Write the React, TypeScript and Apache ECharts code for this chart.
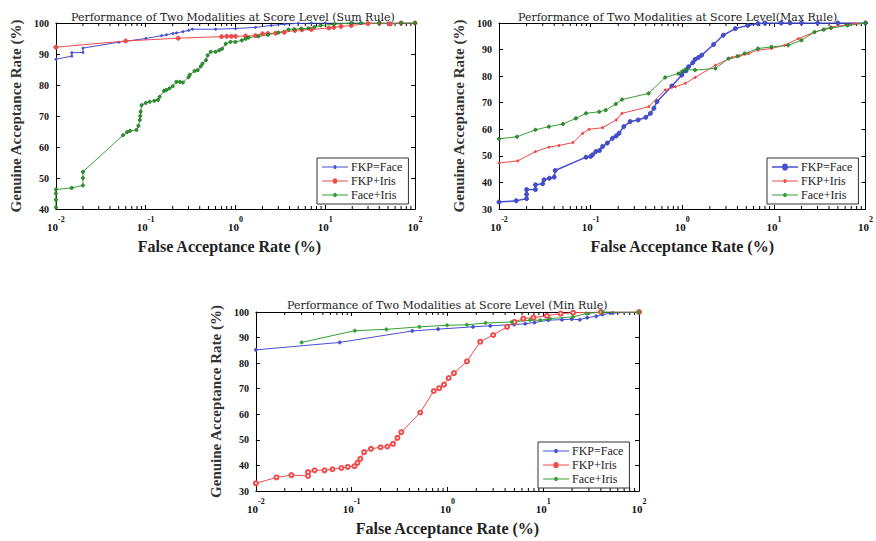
import React, { useEffect, useRef } from "react";
import * as echarts from "echarts";

type Pt = [number, number];

// ---------- shared ----------
const seriesNames = ["FKP=Face", "FKP+Iris", "Face+Iris"];
const xMajorTicks = [0.01, 0.1, 1, 10, 100];
const xMinorTicks = [
  0.02, 0.03, 0.04, 0.05, 0.06, 0.07, 0.08, 0.09,
  0.2, 0.3, 0.4, 0.5, 0.6, 0.7, 0.8, 0.9,
  2, 3, 4, 5, 6, 7, 8, 9,
  20, 30, 40, 50, 60, 70, 80, 90,
];
const titles = [
  "Performance of Two Modalities at Score Level (Sum Rule)",
  "Performance of Two Modalities at Score Level(Max Rule)",
  "Performance of Two Modalities at Score Level (Min Rule)",
];
const xTitle = "False Acceptance Rate (%)";
const yTitle = "Genuine Acceptance Rate (%)";

// ---------- Sum rule ----------
const sumFkpFace: Pt[] = [
  [0.01, 88.3], [0.015, 89.3], [0.015, 90.4], [0.02, 90.5], [0.02, 91.9], [0.05, 93.8],
  [0.1, 95.0], [0.15, 95.9], [0.17, 96.2], [0.2, 96.6], [0.22, 96.8], [0.26, 97.2],
  [0.3, 97.6], [0.33, 98.0], [0.6, 98.0], [1.0, 98.2], [1.67, 98.6], [2.5, 99.2],
  [3.5, 99.6], [5, 99.9], [7, 100], [10, 100], [20, 100], [50, 100], [100, 100],
];
const sumFkpIris: Pt[] = [
  [0.01, 92.2], [0.06, 94.2], [0.23, 95.1], [0.7, 95.6], [0.8, 95.7], [0.9, 95.7],
  [1.0, 95.7], [1.3, 95.8], [1.67, 95.9], [2.0, 96.5], [2.3, 96.6], [2.8, 96.7],
  [3.5, 97.0], [4.6, 97.6], [5.5, 97.8], [7, 97.9], [11, 98.4], [12.5, 98.6],
  [15, 98.9], [19.5, 99.2], [30, 99.8], [40, 99.9], [53, 99.7], [70, 100], [100, 100],
];
const sumFaceIris: Pt[] = [
  [0.01, 40.5], [0.01, 43], [0.01, 45], [0.01, 46.3], [0.015, 46.8], [0.02, 47.6],
  [0.02, 50], [0.02, 52], [0.056, 63.8], [0.062, 64.8], [0.067, 65.2], [0.079, 65.5],
  [0.083, 66.8], [0.086, 68.7], [0.087, 70], [0.088, 71.4], [0.09, 73.5], [0.1, 74.2],
  [0.111, 74.6], [0.125, 74.9], [0.137, 75.2], [0.143, 76.2], [0.16, 78.1], [0.17, 78.4],
  [0.184, 78.9], [0.2, 79.6], [0.22, 81], [0.24, 81], [0.26, 80.8], [0.3, 82.5],
  [0.31, 83.3], [0.35, 84.5], [0.38, 84.8], [0.41, 86], [0.43, 86.9], [0.47, 88],
  [0.49, 89.6], [0.53, 90.7], [0.6, 90.7], [0.66, 91.2], [0.71, 91.7], [0.78, 93.3],
  [0.88, 93.9], [1.0, 93.9], [1.18, 94.4], [1.3, 94.9], [1.4, 95.3], [1.8, 95.7],
  [2.3, 96.2], [3.0, 96.9], [3.9, 97.9], [4.5, 98], [5.4, 98.2], [6.5, 98.3],
  [7.6, 98.7], [8.9, 99.2], [12.5, 99.6], [19.5, 100], [25, 100], [40, 100], [70, 100], [100, 100],
];

// ---------- Max rule ----------
const maxFkpFace: Pt[] = [
  [0.01, 32.6], [0.0154, 33.1], [0.02, 33.9], [0.02, 35.5], [0.02, 37.3], [0.025, 37.3],
  [0.025, 39.1], [0.03, 39.5], [0.031, 41], [0.0355, 41.6], [0.04, 42], [0.041, 44.5],
  [0.089, 49.5], [0.1, 49.8], [0.105, 50.4], [0.114, 51.6], [0.125, 52], [0.135, 53.5],
  [0.152, 54.8], [0.173, 56.6], [0.19, 57.5], [0.204, 58.5], [0.23, 61], [0.27, 62.9],
  [0.33, 63.5], [0.4, 64.5], [0.45, 66], [0.49, 67.9], [0.53, 70.4], [0.77, 76.3],
  [0.99, 80.4], [1.1, 82], [1.17, 83.5], [1.3, 85], [1.38, 86.3], [1.5, 87], [1.63, 87.9],
  [2.2, 91.9], [2.8, 95.4], [3.8, 97.9], [5.2, 99.1], [6.7, 99.8], [8, 100], [12, 100],
  [15, 100], [20, 100], [30, 100], [50, 100], [100, 100],
];
const maxFkpIris: Pt[] = [
  [0.01, 47.3], [0.016, 48.1], [0.025, 51.6], [0.035, 53.3], [0.045, 53.9], [0.064, 55],
  [0.082, 58.5], [0.096, 60], [0.135, 60.6], [0.19, 63.5], [0.22, 66], [0.43, 68.5],
  [0.65, 74.8], [0.84, 76], [1.08, 77.3], [1.38, 79.5], [2.3, 84.1], [3.5, 87],
  [4.2, 87.6], [5.3, 88.5], [6.7, 89.8], [9.4, 90.4], [13, 91.6], [18.5, 94.1],
  [27.8, 96.6], [42, 98.5], [76, 99.75], [100, 100],
];
const maxFaceIris: Pt[] = [
  [0.01, 56.4], [0.0157, 57.2], [0.025, 59.8], [0.035, 61], [0.05, 62], [0.069, 64.1],
  [0.089, 66], [0.124, 66.6], [0.146, 67.2], [0.188, 69.5], [0.22, 71.2], [0.43, 73.5],
  [0.65, 79.5], [0.91, 81], [1.0, 81.8], [1.08, 82.5], [1.38, 82.3], [2.3, 82.9],
  [3.2, 86.6], [4.0, 87.5], [4.8, 88.5], [6.7, 90.4], [9.4, 91], [14.3, 91.6],
  [20, 93.5], [27.8, 96.6], [35, 97.5], [42, 98.1], [63.7, 99.1], [100, 100],
];

// ---------- Min rule ----------
const minFkpFace: Pt[] = [
  [0.01, 85.2], [0.075, 88.1], [0.43, 92.6], [0.8, 93.3], [1.85, 94.2], [2.8, 94.6],
  [4.97, 95.1], [6.5, 95.4], [8.1, 95.9], [11.3, 96.8], [15.7, 97], [19.8, 97.2],
  [24.1, 97], [28.8, 97.8], [35.7, 98.3], [41.7, 99], [53, 99.6], [100, 100],
];
const minFkpIris: Pt[] = [
  [0.01, 33], [0.0164, 35.3], [0.0235, 36.2], [0.035, 35.9], [0.035, 37.4], [0.041, 38.1],
  [0.052, 38.1], [0.063, 38.5], [0.078, 39], [0.091, 39.4], [0.107, 39.7], [0.115, 41],
  [0.123, 42.6], [0.135, 45.2], [0.159, 46.5], [0.2, 47.1], [0.236, 47.4], [0.27, 48.4],
  [0.3, 50.8], [0.33, 53], [0.52, 60.7], [0.72, 69.1], [0.82, 70.2], [0.92, 71.6],
  [1.03, 74.2], [1.17, 76.1], [1.6, 80.7], [2.2, 88.4], [3.0, 91], [4.2, 94.2],
  [5.0, 96.1], [6.2, 97.4], [7.9, 97.8], [10.9, 98.5], [15.2, 99.4], [20.5, 99.7],
  [40, 100], [100, 100],
];
const minFaceIris: Pt[] = [
  [0.03, 88.1], [0.108, 92.7], [0.23, 93.2], [0.51, 94.2], [0.99, 94.8], [1.6, 95],
  [2.5, 95.7], [4.7, 96.1], [7.3, 96.8], [9.3, 96.8], [11.8, 97.4], [20.5, 98.1],
  [28.3, 99.4], [41.7, 100], [100, 100],
];

const BLUE = "#4650d2";
const RED = "#f04a4a";
const GREEN = "#35a035";
const SERIF = "'Liberation Serif', 'DejaVu Serif', serif";
const TITLE_FONT = "'DejaVu Serif', serif";

// legend icon: a line with a dot of radius r in the middle
function legendIcon(r: number, half: number): string {
  const cy = r + 0.5;
  const a = 13 - r;
  const b = 13 + r;
  return `path://M0,${cy - half}H${a}A${r},${r} 0 0 1 ${b},${cy - half}H26V${cy + half}H${b}A${r},${r} 0 0 1 ${a},${cy + half}H0Z`;
}

type LineStyle = { color: string; width: number; symbol: string; size: number; border?: string; legendR: number };

interface ChartCfg {
  title: string;
  yMin: number;
  data: Pt[][];
  styles: LineStyle[];
  grid: { left: number; top: number; width: number; height: number };
  titleLeft: number;
  titleTop: number;
  legendLeft: number;
  legendTop: number;
  xNameGap: number;
  xNameShift: number;
}

function buildOption(c: ChartCfg): echarts.EChartsOption {
  const yMax = 100;
  const tickLine = { lineStyle: { color: "#000", width: 1 } };
  const common = {
    type: "log" as const,
    logBase: 10,
    min: xMajorTicks[0],
    max: xMajorTicks[xMajorTicks.length - 1],
    axisLine: tickLine,
    axisTick: { inside: true, length: 4, lineStyle: { color: "#000" } },
    splitLine: { show: false },
  };
  const series: any[] = c.data.map((d, i) => ({
    name: seriesNames[i],
    type: "line",
    data: d,
    xAxisIndex: 0,
    yAxisIndex: 0,
    symbol: c.styles[i].symbol,
    symbolSize: c.styles[i].size,
    showSymbol: true,
    lineStyle: { color: c.styles[i].color, width: c.styles[i].width },
    itemStyle: {
      color: c.styles[i].color,
      borderColor: c.styles[i].border ?? c.styles[i].color,
      borderWidth: 1,
    },
    z: 3 + (i === 0 ? 0 : 1),
  }));
  series.push({
    type: "custom",
    silent: true,
    xAxisIndex: 0,
    yAxisIndex: 0,
    data: xMinorTicks.map((v) => [v, c.yMin]),
    renderItem: (_p: any, api: any) => {
      const x = api.value(0);
      const b = api.coord([x, c.yMin]);
      const t = api.coord([x, yMax]);
      return {
        type: "group",
        children: [
          { type: "line", shape: { x1: b[0], y1: b[1], x2: b[0], y2: b[1] - 3 }, style: { stroke: "#000", lineWidth: 1 } },
          { type: "line", shape: { x1: t[0], y1: t[1], x2: t[0], y2: t[1] + 3 }, style: { stroke: "#000", lineWidth: 1 } },
        ],
      };
    },
    z: 1,
  });
  return {
    animation: false,
    backgroundColor: "#fff",
    title: {
      text: c.title,
      left: c.titleLeft,
      top: c.titleTop,
      textStyle: { fontFamily: TITLE_FONT, fontSize: 11, fontWeight: "normal", color: "#222" },
    },
    legend: {
      data: seriesNames.map((n, i) => ({
        name: n,
        icon: legendIcon(c.styles[i].legendR, c.styles[i].width > 1 ? 0.8 : 0.5),
        itemStyle: { color: c.styles[i].color, borderWidth: 0 },
      })),
      orient: "vertical",
      left: c.legendLeft,
      top: c.legendTop,
      backgroundColor: "#fff",
      borderColor: "#333",
      borderWidth: 1,
      borderRadius: 0,
      padding: [3, 6, 3, 5],
      itemGap: 2,
      itemWidth: 26,
      itemHeight: 9,
      textStyle: { fontFamily: SERIF, fontSize: 12, color: "#222", padding: [0, 0, 0, -2] },
    },
    grid: { ...c.grid, containLabel: false },
    xAxis: [
      {
        ...common,
        position: "bottom",
        name: xTitle,
        nameLocation: "middle",
        nameGap: c.xNameGap,
        nameTextStyle: {
          fontFamily: SERIF, fontSize: 16, fontWeight: "bold", color: "#222",
          padding: [0, c.xNameShift, 0, 0],
        },
        axisLabel: {
          margin: 6,
          formatter: (v: number) => `{b|10}{s|${Math.round(Math.log10(v))}}`,
          rich: {
            b: { fontFamily: SERIF, fontSize: 11, fontWeight: "bold", color: "#111", lineHeight: 17, verticalAlign: "bottom" },
            s: { fontFamily: SERIF, fontSize: 8, fontWeight: "bold", color: "#111", lineHeight: 9, verticalAlign: "top" },
          },
        },
      },
      { ...common, position: "top", axisLabel: { show: false } },
    ],
    yAxis: [
      {
        type: "value",
        min: c.yMin,
        max: yMax,
        interval: 10,
        position: "left",
        axisLine: tickLine,
        axisTick: { inside: true, length: 4, lineStyle: { color: "#000" } },
        splitLine: { show: false },
        axisLabel: { fontFamily: SERIF, fontSize: 10, fontWeight: "bold", color: "#111", margin: 7 },
        name: yTitle,
        nameLocation: "middle",
        nameRotate: 90,
        nameGap: 30,
        nameTextStyle: { fontFamily: SERIF, fontSize: 15, fontWeight: "bold", color: "#333" },
      },
      {
        type: "value",
        min: c.yMin,
        max: yMax,
        interval: 10,
        position: "right",
        axisLine: tickLine,
        axisTick: { inside: true, length: 4, lineStyle: { color: "#000" } },
        splitLine: { show: false },
        axisLabel: { show: false },
      },
    ],
    series,
  } as echarts.EChartsOption;
}

const configs: { box: { left: number; top: number; width: number; height: number }; cfg: ChartCfg }[] = [
  {
    box: { left: 0, top: 0, width: 440, height: 270 },
    cfg: {
      title: titles[0],
      yMin: 40,
      data: [sumFkpFace, sumFkpIris, sumFaceIris],
      styles: [
        { color: BLUE, width: 1, symbol: "circle", size: 2, legendR: 1.5 },
        { color: RED, width: 1, symbol: "circle", size: 4, legendR: 2.2 },
        { color: GREEN, width: 1, symbol: "circle", size: 3, border: "#1a701a", legendR: 1.8 },
      ],
      grid: { left: 52, top: 23, width: 363, height: 186 },
      titleLeft: 66,
      titleTop: 7,
      legendLeft: 317,
      legendTop: 158,
      xNameGap: 29,
      xNameShift: 12,
    },
  },
  {
    box: { left: 440, top: 0, width: 436, height: 270 },
    cfg: {
      title: titles[1],
      yMin: 30,
      data: [maxFkpFace, maxFkpIris, maxFaceIris],
      styles: [
        { color: BLUE, width: 1.5, symbol: "circle", size: 4, border: "#3a42b8", legendR: 2.8 },
        { color: RED, width: 1, symbol: "circle", size: 2, legendR: 1.5 },
        { color: GREEN, width: 1, symbol: "circle", size: 3, border: "#1a701a", legendR: 1.8 },
      ],
      grid: { left: 59, top: 23, width: 369, height: 186 },
      titleLeft: 73,
      titleTop: 7,
      legendLeft: 327,
      legendTop: 158,
      xNameGap: 29,
      xNameShift: 0,
    },
  },
  {
    box: { left: 200, top: 285, width: 460, height: 256 },
    cfg: {
      title: titles[2],
      yMin: 30,
      data: [minFkpFace, minFkpIris, minFaceIris],
      styles: [
        { color: BLUE, width: 1, symbol: "circle", size: 3, legendR: 1.8 },
        { color: RED, width: 1, symbol: "emptyCircle", size: 4, legendR: 2.6 },
        { color: GREEN, width: 1, symbol: "circle", size: 3, legendR: 1.8 },
      ],
      grid: { left: 54, top: 27, width: 385, height: 181 },
      titleLeft: 82,
      titleTop: 10,
      legendLeft: 338,
      legendTop: 157,
      xNameGap: 29,
      xNameShift: 0,
    },
  },
];

function Chart({ box, cfg }: { box: any; cfg: ChartCfg }) {
  const ref = useRef<HTMLDivElement>(null);
  useEffect(() => {
    if (!ref.current) return;
    const chart = echarts.init(ref.current, undefined, { renderer: "svg" });
    chart.setOption(buildOption(cfg));
    return () => chart.dispose();
  }, []);
  return (
    <div
      ref={ref}
      style={{ position: "absolute", left: box.left, top: box.top, width: box.width, height: box.height }}
    />
  );
}

export default function App() {
  return (
    <div style={{ position: "absolute", left: 0, top: 0, width: 876, height: 541, background: "#fff" }}>
      {configs.map((c, i) => (
        <Chart key={i} box={c.box} cfg={c.cfg} />
      ))}
    </div>
  );
}
